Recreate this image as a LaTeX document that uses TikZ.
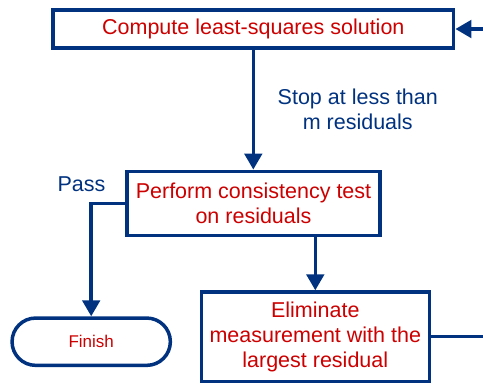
\documentclass[tikz,border=0pt]{standalone}
\usepackage{fontspec}
\setmainfont{Liberation Sans}
\usetikzlibrary{arrows.meta}
\definecolor{navy}{RGB}{0,50,128}
\definecolor{flowred}{RGB}{204,0,0}

\begin{document}
\begin{tikzpicture}[
            x=1pt,
            y=-1pt,
            box/.style={draw=navy, line width=3.5pt, text=flowred, align=center,
              inner sep=0pt, font=\fontsize{21.5}{25}\selectfont},
            term/.style={box, rounded corners=23.6pt, font=\fontsize{17}{20}\selectfont},
            lbl/.style={text=navy, align=center, inner sep=0pt,
              font=\fontsize{21.5}{25}\selectfont},
            flow/.style={draw=navy, line width=3.5pt, -{Triangle[width=17.5pt,length=16pt]}},
          ]
          \useasboundingbox (0,0) rectangle (483,384);
          \clip (0,0) rectangle (483,384);
          \node[box, minimum width=400.7pt, minimum height=38pt] (lsq) at (253.3,29)
            {Compute least-squares solution};
          \node[box, minimum width=253pt, minimum height=64pt] (test) at (253.5,203.3)
            {Perform consistency test\\on residuals};
          \node[box, minimum width=228pt, minimum height=89.3pt] (elim) at (315.3,336.7)
            {Eliminate\\measurement with the\\largest residual};
          \node[term, minimum width=158.3pt, minimum height=47.3pt] (finish) at (91.2,341.7)
            {Finish};
          \coordinate (loop) at (500,200);
          \draw[flow] (lsq.south) -- (lsq.south |- test.north);
          \draw[flow] (elim.north |- test.south) -- (elim.north);
          \draw[flow] (test.west) -| (finish.north);
          \draw[flow] (elim.east) -| (loop) |- (lsq.east);
          \node[lbl, anchor=base] (pass) at (81.5,191.7) {Pass};
          \node[lbl] (stop) at (357.8,109.6) {Stop at less than\\m residuals};
        \end{tikzpicture}
\end{document}
